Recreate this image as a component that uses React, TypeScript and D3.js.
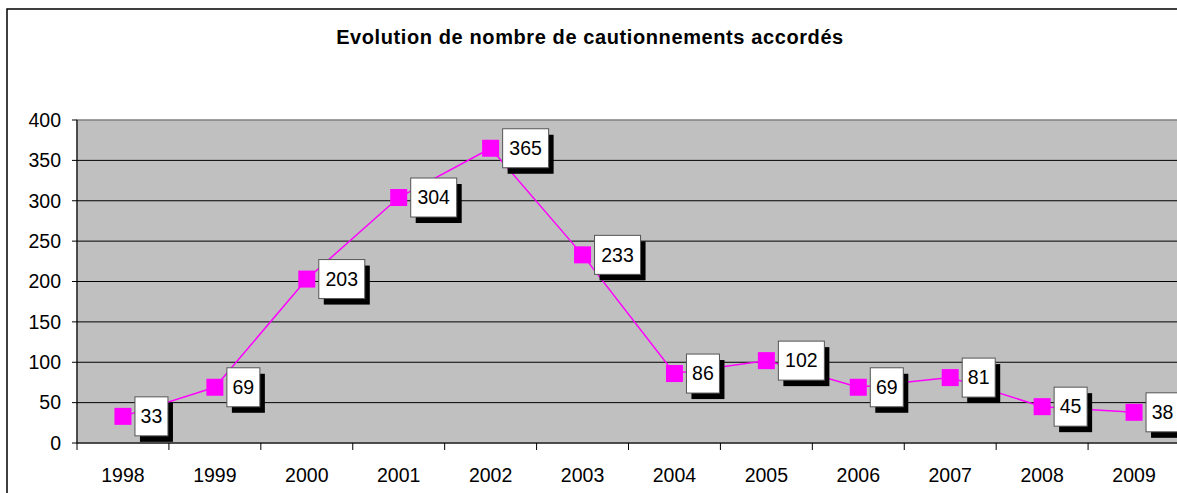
import React from "react";
import * as d3 from "d3";

// chart data
const years = ["1998", "1999", "2000", "2001", "2002", "2003", "2004", "2005", "2006", "2007", "2008", "2009"];
const cautionnements = [33, 69, 203, 304, 365, 233, 86, 102, 69, 81, 45, 38];
const yTicks = [0, 50, 100, 150, 200, 250, 300, 350, 400];
const title = "Evolution de nombre de cautionnements accordés";

const width = 1177;
const height = 493;
const plotLeft = 77;
const plotRight = 1180;
const plotTop = 120;
const plotBottom = 443;
const font = "'Liberation Sans', Arial, sans-serif";

export default function App() {
  const x = d3.scaleBand().domain(years).range([plotLeft, plotRight]);
  const y = d3.scaleLinear().domain([0, 400]).range([plotBottom, plotTop]);

  const line = d3
    .line<number>()
    .x((d, i) => x(years[i])! + x.bandwidth() / 2)
    .y((d) => y(d));

  const boundaries = years.map((yr) => x(yr)!).concat([plotRight]);

  return (
    <svg
      width={width}
      height={height}
      style={{ position: "fixed", left: 0, top: 0, background: "#fff" }}
      fontFamily={font}
    >
      {/* outer chart border */}
      <rect x={7} y={9} width={1200} height={520} fill="#fff" stroke="#000" strokeWidth={1.5} />

      <text x={590} y={44} textAnchor="middle" fontSize={20} letterSpacing={0.6} fontWeight="bold" fill="#000">
        {title}
      </text>

      {/* plot area */}
      <rect x={plotLeft} y={plotTop} width={plotRight - plotLeft} height={plotBottom - plotTop} fill="#c0c0c0" stroke="#808080" strokeWidth={1.5} />

      {/* gridlines */}
      {yTicks.slice(1, -1).map((t) => (
        <line key={t} x1={plotLeft} x2={plotRight} y1={y(t)} y2={y(t)} stroke="#000" strokeWidth={1} />
      ))}

      {/* y axis */}
      <line x1={plotLeft} x2={plotLeft} y1={plotTop} y2={plotBottom} stroke="#000" strokeWidth={1} />
      {yTicks.map((t) => (
        <g key={t}>
          <line x1={plotLeft - 5} x2={plotLeft} y1={y(t)} y2={y(t)} stroke="#000" />
          <text x={61} y={y(t)} dy="0.35em" textAnchor="end" fontSize={19.5} fill="#000">
            {t}
          </text>
        </g>
      ))}

      {/* x axis */}
      <line x1={plotLeft} x2={plotRight} y1={plotBottom} y2={plotBottom} stroke="#000" strokeWidth={1} />
      {boundaries.map((bx, i) => (
        <line key={i} x1={bx} x2={bx} y1={plotBottom} y2={plotBottom + 7} stroke="#000" />
      ))}
      {years.map((yr) => (
        <text key={yr} x={x(yr)! + x.bandwidth() / 2} y={482} textAnchor="middle" fontSize={19.5} fill="#000">
          {yr}
        </text>
      ))}

      {/* series line */}
      <path d={line(cautionnements)!} fill="none" stroke="#ff00ff" strokeWidth={1.5} />

      {/* markers */}
      {cautionnements.map((v, i) => {
        const cx = x(years[i])! + x.bandwidth() / 2;
        return <rect key={i} x={cx - 8.5} y={y(v) - 8.5} width={17} height={17} fill="#ff00ff" />;
      })}

      {/* data labels */}
      {cautionnements.map((v, i) => {
        const cx = x(years[i])! + x.bandwidth() / 2;
        const cy = y(v);
        const w = String(v).length > 2 ? 46 : 33;
        const h = 39;
        const bx = cx + 12;
        const by = cy - h / 2;
        return (
          <g key={i}>
            <rect x={bx + 5} y={by + 6} width={w} height={h} fill="#000" />
            <rect x={bx} y={by} width={w} height={h} fill="#fff" stroke="#555" strokeWidth={1} />
            <text x={bx + w / 2} y={cy} dy="0.35em" textAnchor="middle" fontSize={19.5} fill="#000">
              {v}
            </text>
          </g>
        );
      })}
    </svg>
  );
}
